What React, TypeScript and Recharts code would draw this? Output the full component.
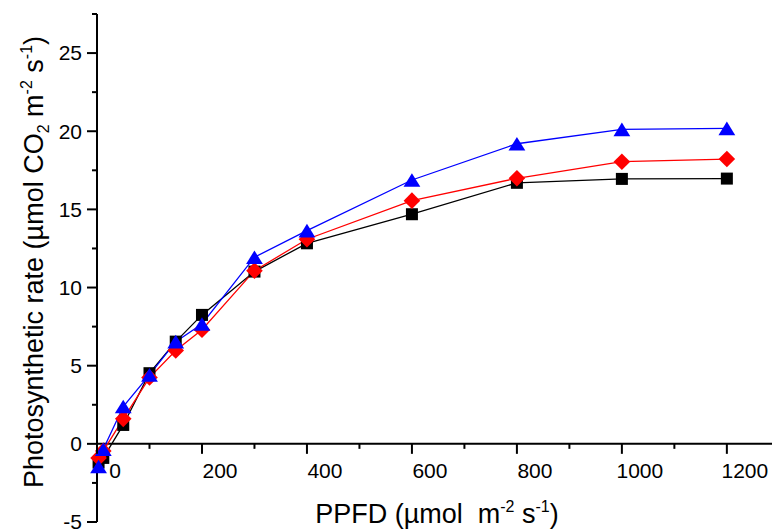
import React from 'react';
import { ComposedChart, Line, XAxis, YAxis, ReferenceLine } from 'recharts';

// ---- data ----
const ppfd = [3, 12, 50, 100, 150, 200, 300, 400, 600, 800, 1000, 1200];
const seriesBlack = [-1.2, -0.9, 1.21, 4.52, 6.54, 8.25, 11.02, 12.83, 14.69, 16.7, 16.95, 16.97];
const seriesRed = [-0.9, -0.45, 1.6, 4.24, 5.97, 7.3, 11.08, 13.09, 15.56, 16.99, 18.05, 18.22];
const seriesBlue = [-1.45, -0.35, 2.39, 4.41, 6.54, 7.67, 11.94, 13.64, 16.88, 19.2, 20.12, 20.18];
const xTicks = [0, 100, 200, 300, 400, 500, 600, 700, 800, 900, 1000, 1100, 1200];
const xLabelTicks = [0, 200, 400, 600, 800, 1000, 1200];
const yTicks = [-5, -2.5, 0, 2.5, 5, 7.5, 10, 12.5, 15, 17.5, 20, 22.5, 25, 27.5];
const yLabelTicks = [-5, 0, 5, 10, 15, 20, 25];

const data = ppfd.map((p, i) => ({ ppfd: p, a: seriesBlack[i], b: seriesRed[i], c: seriesBlue[i] }));

// ---- layout ----
const W = 772;
const H = 532;
const M = { top: 14, right: 0, bottom: 9, left: 96 };
const X_DOMAIN: [number, number] = [0, 1286];
const Y_DOMAIN: [number, number] = [-5, 27.5];
const PLOT_H = H - M.top - M.bottom - 1;
// distance from plot bottom up to y=0 line (axis crossing)
const X_AXIS_SHIFT = (PLOT_H * (0 - Y_DOMAIN[0])) / (Y_DOMAIN[1] - Y_DOMAIN[0]);
const FONT = '"Liberation Sans", Arial, sans-serif';

const XTick = (props: any) => {
  const { x, y, payload } = props;
  const v = payload.value;
  const major = xLabelTicks.includes(v);
  const y0 = y - X_AXIS_SHIFT;
  return (
    <g>
      <line x1={x} x2={x} y1={y0} y2={y0 + (major ? 10 : 5)} stroke="#000" strokeWidth={2} />
      {major && (
        <text x={x + 18} y={y0 + 34} textAnchor="middle" fontSize={21} fontFamily={FONT} fill="#000">
          {v}
        </text>
      )}
    </g>
  );
};

const YTick = (props: any) => {
  const { x, y, payload } = props;
  const v = payload.value;
  const major = yLabelTicks.includes(v);
  return (
    <g>
      <line x1={x - (major ? 10 : 5)} x2={x} y1={y} y2={y} stroke="#000" strokeWidth={2} />
      {major && (
        <text x={x - 15} y={y} dy="0.35em" textAnchor="end" fontSize={21} fontFamily={FONT} fill="#000">
          {v}
        </text>
      )}
    </g>
  );
};

const SquareDot = (p: any) => {
  const { cx, cy, index } = p;
  if (cx == null || cy == null) return <g key={`s${index}`} />;
  return <rect key={`s${index}`} x={cx - 6} y={cy - 6} width={12} height={12} fill="#000" />;
};

const DiamondDot = (p: any) => {
  const { cx, cy, index } = p;
  if (cx == null || cy == null) return <g key={`d${index}`} />;
  const r = 8.3;
  return (
    <polygon
      key={`d${index}`}
      points={`${cx},${cy - r} ${cx + r},${cy} ${cx},${cy + r} ${cx - r},${cy}`}
      fill="#ff0000"
    />
  );
};

const TriangleDot = (p: any) => {
  const { cx, cy, index } = p;
  if (cx == null || cy == null) return <g key={`t${index}`} />;
  const hw = 8.4;
  const hh = 6.8;
  return (
    <polygon
      key={`t${index}`}
      points={`${cx},${cy - hh} ${cx + hw},${cy + hh} ${cx - hw},${cy + hh}`}
      fill="#0000ff"
    />
  );
};

const XTitle = () => (
  <text x={437} y={523} textAnchor="middle" fontSize={27} fontFamily={FONT} fill="#000" style={{ whiteSpace: 'pre' }}>
    <tspan>{'PPFD (µmol  m'}</tspan>
    <tspan fontSize={16} dy={-11}>{'-2'}</tspan>
    <tspan dy={11}>{' s'}</tspan>
    <tspan fontSize={16} dy={-11}>{'-1'}</tspan>
    <tspan dy={11}>{')'}</tspan>
  </text>
);

const YTitle = () => (
  <text
    x={0}
    y={0}
    transform="translate(43, 262) rotate(-90)"
    textAnchor="middle"
    fontSize={27}
    fontFamily={FONT}
    fill="#000"
    style={{ whiteSpace: 'pre' }}
  >
    <tspan>{'Photosynthetic rate (µmol CO'}</tspan>
    <tspan fontSize={16} dy={6}>{'2'}</tspan>
    <tspan dy={-6}>{' m'}</tspan>
    <tspan fontSize={16} dy={-11}>{'-2'}</tspan>
    <tspan dy={11}>{' s'}</tspan>
    <tspan fontSize={16} dy={-11}>{'-1'}</tspan>
    <tspan dy={11}>{')'}</tspan>
  </text>
);

export default function App() {
  return (
    <div style={{ position: 'absolute', left: 0, top: 0, width: W, height: H, background: '#fff' }}>
      <ComposedChart width={W} height={H} data={data} margin={M}>
        <XAxis
          type="number"
          dataKey="ppfd"
          domain={X_DOMAIN}
          ticks={xTicks}
          interval={0}
          height={1}
          axisLine={false}
          tickLine={false}
          tickSize={0}
          tickMargin={0}
          tick={<XTick />}
          label={{ content: () => <XTitle /> }}
        />
        <YAxis
          type="number"
          domain={Y_DOMAIN}
          ticks={yTicks}
          interval={0}
          width={1}
          axisLine={{ stroke: '#000', strokeWidth: 2 }}
          tickLine={false}
          tickSize={0}
          tickMargin={0}
          tick={<YTick />}
          label={{ content: () => <YTitle /> }}
        />
        <ReferenceLine y={0} stroke="#000" strokeWidth={2} />
        <Line
          type="linear"
          dataKey="a"
          stroke="#000"
          strokeWidth={1.3}
          dot={SquareDot}
          activeDot={false}
          isAnimationActive={false}
        />
        <Line
          type="linear"
          dataKey="b"
          stroke="#ff0000"
          strokeWidth={1.3}
          dot={DiamondDot}
          activeDot={false}
          isAnimationActive={false}
        />
        <Line
          type="linear"
          dataKey="c"
          stroke="#0000ff"
          strokeWidth={1.3}
          dot={TriangleDot}
          activeDot={false}
          isAnimationActive={false}
        />
      </ComposedChart>
    </div>
  );
}
